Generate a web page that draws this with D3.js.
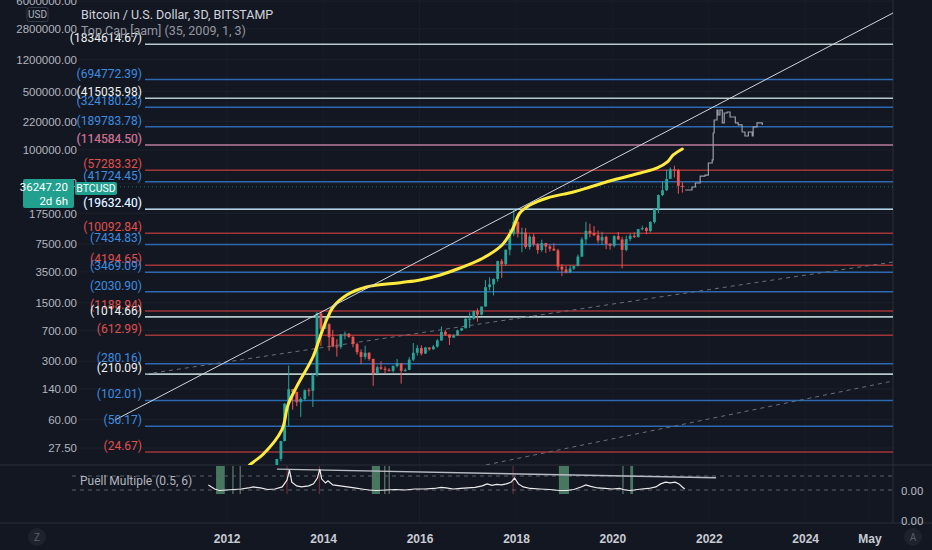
<!DOCTYPE html>
<html>
<head>
<meta charset="utf-8">
<script src="https://cdn.jsdelivr.net/npm/d3@7"></script>
<style>
html, body { margin: 0; padding: 0; background: #131722; }
svg { display: block; font-family: Roboto, "DejaVu Sans", sans-serif; }
</style>
</head>
<body>
<svg id="chart" width="932" height="550"></svg>
<script>
// ---- texts
var titleText = "Bitcoin / U.S. Dollar, 3D, BITSTAMP";
var indicatorText = "Top Cap [aam] (35, 2009, 1, 3)";
var puellText = "Puell Multiple (0.5, 6)";
var symbolText = "BTCUSD";
var countdownText = "2d 6h";

// ---- axes
var priceTicks = [6000000, 2800000, 1200000, 500000, 220000, 100000, 40000, 17500, 7500, 3500, 1500, 700, 300, 140, 60, 27.5];
var timeTickYears = [2012, 2014, 2016, 2018, 2020, 2022, 2024, 2025.33];
var timeTickLabels = ["2012", "2014", "2016", "2018", "2020", "2022", "2024", "May"];

// ---- monthly candles, Jan 2013 .. Jun 2021
var candleStartYear = 2013;
var opens = [13.5,20.4,33.4,93,139,129,97,106,135,133,204,1120,
  732,830,580,450,445,630,640,585,480,385,338,378,
  320,217,254,244,236,230,263,284,230,236,313,378,
  430,370,437,416,448,531,673,624,573,608,698,742,
  964,965,1190,1080,1348,2300,2480,2875,4700,4340,6440,9950,
  13860,10220,10300,6930,9240,7490,6390,7730,7030,6620,6320,4040,
  3740,3460,3830,4100,5320,8560,10820,10080,9590,8300,9150,7540,
  7190,9350,8540,6410,8630,9450,9140,11330,11650,10780,13800,19700,
  28990,33110,45200,58800,57700,37300];
var highs = [20.4,33.5,95,266,140,130,111,138,143,215,1163,1163,
  1000,850,710,550,630,680,650,600,500,415,460,385,
  320,265,299,261,248,267,318,285,246,334,495,469,
  465,445,440,467,550,780,705,627,628,715,752,975,
  1150,1200,1280,1350,2790,3000,2930,4760,4990,6450,11400,19666,
  17250,11800,11680,9760,9990,7760,8490,7760,7410,7680,6600,4340,
  4110,4210,4130,5640,9070,13880,13170,12330,10900,10540,9500,7740,
  9580,10500,9190,9460,10070,10380,11440,12470,12090,14100,19860,29300,
  41950,58330,61780,64900,59500,41300];
var lows = [13.2,19.1,33,50,79,87,65,101,115,85,197,455,
  730,400,440,340,420,545,570,440,360,275,315,305,
  152,212,235,214,226,220,253,162,224,235,300,350,
  352,365,400,412,435,525,600,470,570,604,685,741,
  750,940,890,1060,1345,2100,1830,2680,2970,4110,5520,9380,
  9020,6000,6600,6450,7030,5750,6070,5880,6120,6200,3650,3120,
  3350,3370,3690,4090,5310,7450,9050,9420,7710,7320,6530,6430,
  6860,8450,3850,6150,8110,8900,8980,10950,9880,10370,13200,17570,
  28130,32300,45000,47000,30000,31000];
var closes = [20.4,33.4,93,139,129,97,106,135,133,204,1120,732,
  830,580,450,445,630,640,585,480,385,338,378,320,
  217,254,244,236,230,263,284,230,236,313,378,430,
  370,437,416,448,531,673,624,573,608,698,742,964,
  965,1190,1080,1348,2300,2480,2875,4700,4340,6440,9950,13860,
  10220,10300,6930,9240,7490,6390,7730,7030,6620,6320,4040,3740,
  3460,3830,4100,5320,8560,10820,10080,9590,8300,9150,7540,7190,
  9350,8540,6410,8630,9450,9140,11330,11650,10780,13800,19700,28990,
  33110,45200,58800,57700,37300,36247.2];

// ---- Top Cap curve
var topCapYears = [2012.30,2012.48,2012.75,2013.14,2013.27,2013.45,2013.79,2013.95,2014.10,2014.21,2014.49,2014.90,2015.60,2016.01,2016.43,2016.84,2017.32,2017.71,2017.92,2018.08,2018.29,2018.65,2019.19,2019.54,2020.02,2020.58,2020.93,2021.14,2021.26,2021.45];
var topCapValues = [12.5,17.3,23,45,90,149,339,617,1019,1342,1853,2309,2600,2799,3214,3892,5129,7328,11066,17660,22030,26720,31500,36140,43830,53120,60950,71900,87150,102800];

// ---- projected path after the last bar
var projYears = [2021.51,2021.65,2021.72,2021.82,2021.92,2021.99,2022.07,2022.09,2022.11,2022.17,2022.19,2022.23,2022.28,2022.32,2022.38,2022.44,2022.55,2022.61,2022.69,2022.75,2022.82,2022.90,2022.92,2023.00,2023.11];
var projValues = [33270,36150,40340,48860,50200,69950,76030,159600,228200,300400,261800,300400,210400,276700,284500,247800,210400,199100,164100,146900,164100,146900,188400,210400,199100];

// ---- horizontal levels
var levelValues = [1834614.67,694772.39,415035.98,324180.23,189783.78,114584.50,114584.50,57283.32,41724.45,19632.40,19632.40,10092.84,7434.83,4194.65,3469.09,2030.90,1188.94,1014.66,612.99,280.16,210.09,102.01,50.17,24.67];
var levelKinds = ["white","blue","white","blue","blue","blue","pink","red","blue","blue","white","red","blue","red","blue","blue","red","white","red","blue","white","blue","blue","red"];

// ---- trend lines [startYear, startPrice, endYear, endPrice]
var topTrend = [2009.68, 59.4, 2025.82, 4330000];
var midTrend = [2010.31, 210.09, 2025.82, 4590];
var lowTrend = [2017.38, 17.3, 2025.82, 174];

// ---- Puell Multiple
var puellYears = [2011.62,2011.75,2011.85,2012.00,2012.15,2012.30,2012.45,2012.55,2012.70,2012.85,2013.00,2013.15,2013.25,2013.30,2013.35,2013.45,2013.55,2013.70,2013.80,2013.88,2013.93,2013.97,2014.05,2014.10,2014.20,2014.35,2014.50,2014.65,2014.80,2014.95,2015.10,2015.30,2015.50,2015.70,2015.90,2016.10,2016.30,2016.45,2016.55,2016.70,2016.85,2017.00,2017.15,2017.30,2017.40,2017.50,2017.60,2017.70,2017.80,2017.90,2017.97,2018.05,2018.15,2018.30,2018.50,2018.70,2018.90,2019.05,2019.20,2019.35,2019.45,2019.55,2019.70,2019.85,2020.00,2020.15,2020.22,2020.35,2020.45,2020.60,2020.75,2020.90,2021.00,2021.10,2021.20,2021.30,2021.38,2021.45,2021.50];
var puellValues = [2.5,0.9,0.3,0.5,0.7,0.9,1.3,1.7,1.3,0.7,0.9,1.7,4.4,8.4,3.6,2.1,1.7,2.1,2.9,5.2,8.7,4.8,3.3,4.1,2.5,2.1,1.7,1.3,0.9,0.5,0.3,0.5,0.7,0.5,0.9,0.9,1.1,1.5,1.3,0.9,1.1,1.3,1.5,2.1,2.9,2.3,2.7,2.5,2.9,3.6,5.2,2.9,1.7,1.1,0.9,0.7,0.3,0.3,0.7,1.7,2.5,1.9,1.3,1.1,0.9,1.1,0.7,0.3,0.5,0.9,1.1,1.7,2.9,3.6,3.3,3.6,2.9,1.7,0.9];
var buyZoneStarts = [2011.78,2015.01,2018.89,2020.37];
var buyZoneEnds = [2011.96,2015.18,2019.10,2020.43];
var buyMarks = [2012.13,2012.28,2015.28,2015.37,2020.22];
var sellMarks = [2013.25,2013.92,2017.94];
var puellThresholds = [0.5, 6];
var puellTrend = [2013.04, 8.7, 2022.15, 5.3];

// ---- helpers
function yr(y) {
	var full = Math.floor(y);
	var a = Date.UTC(full, 0, 1), b = Date.UTC(full + 1, 0, 1);
	return new Date(a + (y - full) * (b - a));
}

var svg = d3.select('#chart');
var W = 932, H = 550;
var paneLeft = 72, paneRight = 893, paneBottom = 465, puellBottom = 523;

var x = d3.scaleUtc().domain([yr(2008.79), yr(2025.82)]).range([paneLeft, paneRight]);
var y = d3.scaleLog().domain([17.26, 6.19e6]).range([paneBottom, 0]);
var py = d3.scaleLinear().domain(puellThresholds).range([490, 476]);

var colors = {
	blue: { line: '#2f72c0', text: '#3d8ee0' },
	red: { line: '#b23a3a', text: '#e0504d' },
	pink: { line: '#c46a78', text: '#e0606a' },
	white: { line: '#c9dede', text: '#eef4f4' }
};

svg.append('rect').attr('width', W).attr('height', H).attr('fill', '#131722');

svg.append('clipPath').attr('id', 'mainclip')
	.append('rect').attr('x', paneLeft).attr('y', 0).attr('width', paneRight - paneLeft).attr('height', paneBottom);
svg.append('clipPath').attr('id', 'puellclip')
	.append('rect').attr('x', paneLeft).attr('y', paneBottom).attr('width', paneRight - paneLeft).attr('height', puellBottom - paneBottom);

// grid
var grid = svg.append('g');
grid.selectAll('line.h').data(priceTicks).enter().append('line')
	.attr('x1', 78).attr('x2', paneRight)
	.attr('y1', d => y(d)).attr('y2', d => y(d))
	.attr('stroke', '#1c202b').attr('stroke-width', 1);
grid.selectAll('line.v').data(timeTickYears).enter().append('line')
	.attr('x1', d => x(yr(d))).attr('x2', d => x(yr(d)))
	.attr('y1', 0).attr('y2', puellBottom)
	.attr('stroke', '#191d28').attr('stroke-width', 1);

// pane borders
svg.append('line').attr('x1', 0).attr('x2', W).attr('y1', paneBottom).attr('y2', paneBottom).attr('stroke', '#2a2e39');
svg.append('line').attr('x1', 0).attr('x2', W).attr('y1', puellBottom).attr('y2', puellBottom).attr('stroke', '#2a2e39');
svg.append('line').attr('x1', paneRight).attr('x2', paneRight).attr('y1', 0).attr('y2', puellBottom).attr('stroke', '#2a2e39');

// level lines (drawn red, then blue, then pink, then white)
var kindOrder = { red: 0, blue: 1, pink: 2, white: 3 };
var levels = levelValues.map((v, i) => ({ v: v, k: levelKinds[i] }))
	.sort((a, b) => kindOrder[a.k] - kindOrder[b.k]);
var lv = svg.append('g');
lv.selectAll('line').data(levels).enter().append('line')
	.attr('x1', 145).attr('x2', paneRight)
	.attr('y1', d => y(d.v)).attr('y2', d => y(d.v))
	.attr('stroke', d => colors[d.k].line)
	.attr('stroke-width', d => d.k == 'white' ? 1.6 : 1.5)
	.attr('opacity', 0.9);

// current price line
var lastClose = closes[closes.length - 1];
svg.append('line').attr('x1', paneLeft).attr('x2', paneRight)
	.attr('y1', y(lastClose)).attr('y2', y(lastClose))
	.attr('stroke', '#26a69a').attr('stroke-dasharray', '1,3').attr('opacity', 0.6);

var main = svg.append('g').attr('clip-path', 'url(#mainclip)');

// trend lines
function trend(t, col, dash, w) {
	main.append('line')
		.attr('x1', x(yr(t[0]))).attr('y1', y(t[1]))
		.attr('x2', x(yr(t[2]))).attr('y2', y(t[3]))
		.attr('stroke', col).attr('stroke-width', w)
		.attr('stroke-dasharray', dash);
}
trend(midTrend, '#6a6e7a', '4,4', 1);
trend(lowTrend, '#6a6e7a', '4,4', 1);

// candles
var candles = opens.map((o, i) => ({
	d: new Date(Date.UTC(candleStartYear, i, 15)),
	o: o, h: highs[i], l: lows[i], c: closes[i]
}));
var cg = main.append('g');
cg.selectAll('line').data(candles).enter().append('line')
	.attr('x1', d => x(d.d)).attr('x2', d => x(d.d))
	.attr('y1', d => y(d.h)).attr('y2', d => y(d.l))
	.attr('stroke', d => d.c >= d.o ? '#26a69a' : '#ef5350').attr('stroke-width', 1);
cg.selectAll('rect').data(candles).enter().append('rect')
	.attr('x', d => x(d.d) - 1.4).attr('width', 2.8)
	.attr('y', d => y(Math.max(d.o, d.c)))
	.attr('height', d => Math.max(1, y(Math.min(d.o, d.c)) - y(Math.max(d.o, d.c))))
	.attr('fill', d => d.c >= d.o ? '#26a69a' : '#ef5350');

// projection
main.append('path')
	.datum(projYears.map((t, i) => [t, projValues[i]]))
	.attr('fill', 'none').attr('stroke', '#9a9da6').attr('stroke-width', 1.2)
	.attr('d', d3.line().x(d => x(yr(d[0]))).y(d => y(d[1])).curve(d3.curveStepAfter));

// top cap curve
main.append('path')
	.datum(topCapYears.map((t, i) => [t, topCapValues[i]]))
	.attr('fill', 'none').attr('stroke', '#ffeb3b').attr('stroke-width', 3)
	.attr('stroke-linecap', 'round')
	.attr('d', d3.line().x(d => x(yr(d[0]))).y(d => y(d[1])).curve(d3.curveCatmullRom));

// top trend
main.append('line')
	.attr('x1', x(yr(topTrend[0]))).attr('y1', y(topTrend[1]))
	.attr('x2', x(yr(topTrend[2]))).attr('y2', y(topTrend[3]))
	.attr('stroke', '#d1d4dc').attr('stroke-width', 1);

// level labels
var lt = svg.append('g').style('font-size', '12px').attr('text-anchor', 'end');
lt.selectAll('text').data(levels).enter().append('text')
	.attr('x', 142).attr('y', d => y(d.v) - 2)
	.attr('fill', d => colors[d.k].text)
	.text(d => '(' + d.v.toFixed(2) + ')');

// price axis (left)
var yAxis = svg.append('g').attr('transform', 'translate(77,0)')
	.call(d3.axisLeft(y).tickValues(priceTicks).tickSize(0).tickPadding(0).tickFormat(d3.format('.2f')));
yAxis.select('.domain').remove();
yAxis.selectAll('text').attr('fill', '#b2b5be').style('font-size', '11.5px').attr('font-family', null);

// time axis
var xAxis = svg.append('g').attr('transform', 'translate(0,' + puellBottom + ')')
	.call(d3.axisBottom(x).tickValues(timeTickYears.map(yr)).tickSize(0).tickPadding(11)
		.tickFormat((d, i) => timeTickLabels[i]));
xAxis.select('.domain').remove();
xAxis.selectAll('text').attr('fill', '#c8cbd3').style('font-size', '12px').style('font-weight', 'bold').attr('font-family', null);

// Puell pane
var pg = svg.append('g').attr('clip-path', 'url(#puellclip)');
pg.selectAll('rect.zone').data(buyZoneStarts).enter().append('rect')
	.attr('x', (d, i) => x(yr(d)))
	.attr('width', (d, i) => Math.max(1.5, x(yr(buyZoneEnds[i])) - x(yr(d))))
	.attr('y', 466).attr('height', py(puellThresholds[0]) - 466 + 4)
	.attr('fill', '#5a9a74').attr('opacity', 0.75);
pg.selectAll('line.buy').data(buyMarks).enter().append('line')
	.attr('x1', d => x(yr(d))).attr('x2', d => x(yr(d)))
	.attr('y1', 466).attr('y2', py(puellThresholds[0]) + 4)
	.attr('stroke', '#6f8f80').attr('stroke-width', 1);
pg.selectAll('line.sell').data(sellMarks).enter().append('line')
	.attr('x1', d => x(yr(d))).attr('x2', d => x(yr(d)))
	.attr('y1', 466).attr('y2', py(puellThresholds[0]) + 4)
	.attr('stroke', '#7a3344').attr('stroke-width', 1);
pg.selectAll('line.th').data(puellThresholds).enter().append('line')
	.attr('x1', paneLeft).attr('x2', paneRight)
	.attr('y1', d => py(d)).attr('y2', d => py(d))
	.attr('stroke', '#5d606b').attr('stroke-dasharray', '4,4');
pg.append('line')
	.attr('x1', x(yr(puellTrend[0]))).attr('y1', py(puellTrend[1]))
	.attr('x2', x(yr(puellTrend[2]))).attr('y2', py(puellTrend[3]))
	.attr('stroke', '#b8bbc2').attr('stroke-width', 1.4);
pg.append('path')
	.datum(puellYears.map((t, i) => [t, puellValues[i]]))
	.attr('fill', 'none').attr('stroke', '#ececec').attr('stroke-width', 1.2)
	.attr('d', d3.line().x(d => x(yr(d[0]))).y(d => py(d[1])));

svg.append('text').attr('x', 80).attr('y', 485).attr('fill', '#b2b5be').style('font-size', '12px').text(puellText);
svg.selectAll('text.zero').data([491, 521]).enter().append('text')
	.attr('x', 901).attr('y', d => d + 4).attr('fill', '#b2b5be').style('font-size', '11.5px').text('0.00');

// titles
svg.append('text').attr('x', 81).attr('y', 19).attr('fill', '#d1d4dc').style('font-size', '12.5px').text(titleText);
svg.append('text').attr('x', 81).attr('y', 35).attr('fill', '#9598a1').style('font-size', '12.5px').text(indicatorText);

// USD box
svg.append('rect').attr('x', 27).attr('y', 7.5).attr('width', 21).attr('height', 14).attr('rx', 2)
	.attr('fill', 'none').attr('stroke', '#363a45');
svg.append('text').attr('x', 37.5).attr('y', 18).attr('text-anchor', 'middle').attr('fill', '#b2b5be').style('font-size', '10px').text('USD');

// last price tag
var ly = y(lastClose);
svg.append('rect').attr('x', 23).attr('y', ly - 8).attr('width', 51).attr('height', 29).attr('rx', 2).attr('fill', '#22a08f');
svg.append('text').attr('x', 68).attr('y', ly + 4).attr('text-anchor', 'end').attr('fill', '#ffffff').style('font-size', '11.5px').text(d3.format('.2f')(lastClose));
svg.append('text').attr('x', 68).attr('y', ly + 18).attr('text-anchor', 'end').attr('fill', '#ffffff').style('font-size', '11.5px').text(countdownText);
svg.append('rect').attr('x', 75).attr('y', ly - 5).attr('width', 42).attr('height', 13).attr('rx', 2).attr('fill', '#22a08f');
svg.append('text').attr('x', 96).attr('y', ly + 5.5).attr('text-anchor', 'middle').attr('fill', '#ffffff').style('font-size', '10.5px').text(symbolText);

// corner buttons
[[37, 'Z'], [913, 'A']].forEach(function (b) {
	svg.append('circle').attr('cx', b[0]).attr('cy', 537).attr('r', 9).attr('fill', '#1e222d');
	svg.append('text').attr('x', b[0]).attr('y', 541).attr('text-anchor', 'middle').attr('fill', '#5d606b').style('font-size', '10px').text(b[1]);
});
</script>
</body>
</html>
